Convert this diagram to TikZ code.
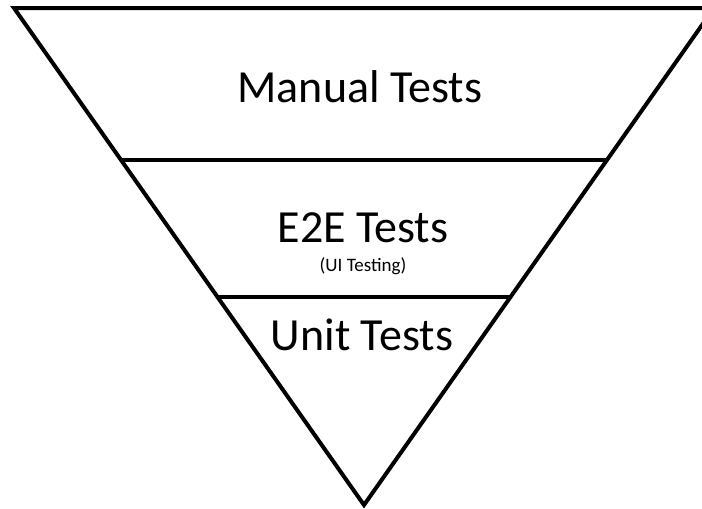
\documentclass[tikz,border=0pt]{standalone}
\usepackage{fontspec}
\setmainfont{Carlito}
\begin{document}
\begin{tikzpicture}[x=1pt,y=-1pt,
  edge/.style={line width=4pt,line join=miter},
  bigtext/.style={anchor=base,inner sep=0pt,font=\fontsize{46}{50}\selectfont},
  smalltext/.style={anchor=base,inner sep=0pt,font=\fontsize{19}{22}\selectfont}]
\useasboundingbox (0,0) rectangle (702,509);
\clip (0,0) rectangle (702,509);
\coordinate (tl) at (14,8);
\coordinate (tr) at (714,8);
\coordinate (apex) at (364,505);
\coordinate (l1) at (121,160);
\coordinate (r1) at (607,160);
\coordinate (l2) at (216,297);
\coordinate (r2) at (512,297);
\draw[edge] (tl) -- (tr) -- (apex) -- cycle;
\draw[edge] (l1) -- (r1);
\draw[edge] (l2) -- (r2);
\node[bigtext] (manual) at (360,102) {Manual Tests};
\node[bigtext] (e2e) at (363,242) {E2E Tests};
\node[smalltext] (ui) at (363,271) {(UI Testing)};
\node[bigtext] (unit) at (362,350) {Unit Tests};
\end{tikzpicture}
\end{document}
